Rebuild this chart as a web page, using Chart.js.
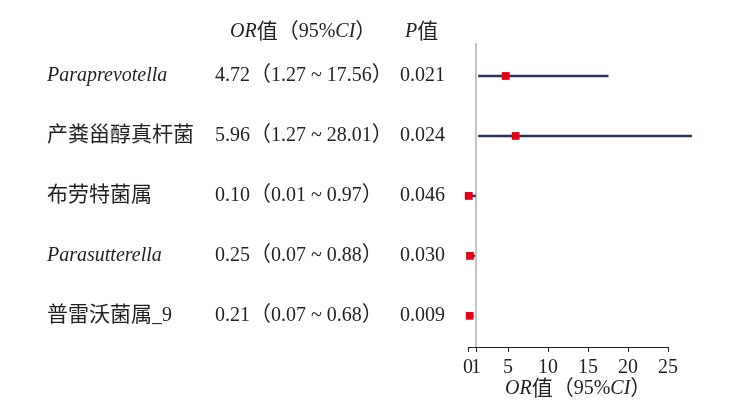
<!DOCTYPE html>
<html>
<head>
<meta charset="utf-8">
<script src="https://cdn.jsdelivr.net/npm/chart.js@4/dist/chart.umd.min.js"></script>
<style>
  html, body { margin: 0; padding: 0; background: #fff; }
  #wrap { width: 737px; height: 413px; position: relative; }
</style>
</head>
<body>
<div id="wrap"><canvas id="forest"></canvas></div>
<script>
// --- data ---
const labels = ['Paraprevotella', '产粪甾醇真杆菌', '布劳特菌属', 'Parasutterella', '普雷沃菌属_9'];
const labelItalic = [true, false, false, true, false];
const orValues = [4.72, 5.96, 0.10, 0.25, 0.21];
const ciLower = [1.27, 1.27, 0.01, 0.07, 0.07];
const ciUpper = [17.56, 28.01, 0.97, 0.88, 0.68];
const pValues = ['0.021', '0.024', '0.046', '0.030', '0.009'];
const xTicks = [0, 1, 5, 10, 15, 20, 25];

const SERIF = '"Liberation Serif", "Times New Roman", "Noto Sans CJK SC", serif';
const FS = 20;
const FS_CJK = 21;
const CJK_RE = /[\u3000-\u303f\u4e00-\u9fff\uff00-\uffef]+/g;

const fmt = v => v.toFixed(2);
const orText = labels.map((_, i) => `${fmt(orValues[i])}（${fmt(ciLower[i])} ~ ${fmt(ciUpper[i])}）`);

// split a string into latin / cjk runs so each gets its own size
function runs(t) {
  const out = [];
  let last = 0;
  t.replace(CJK_RE, (m, off) => {
    if (off > last) out.push([t.slice(last, off), false]);
    out.push([m, true]);
    last = off + m.length;
    return m;
  });
  if (last < t.length) out.push([t.slice(last), false]);
  return out;
}

// helper: draw text made of italic / normal parts
function drawRich(ctx, parts, x, y) {
  const setFont = (it, cjk) => { ctx.font = `${it ? 'italic ' : ''}${cjk ? FS_CJK : FS}px ${SERIF}`; };
  let cx = x;
  parts.forEach(([t, it]) => runs(t).forEach(([s, cjk]) => {
    setFont(it, cjk);
    ctx.fillText(s, cx, y);
    cx += ctx.measureText(s).width;
  }));
}

const orHeader = [['OR', true], ['值（95%', false], ['CI', true], ['）', false]];

const textPlugin = {
  id: 'forestText',
  afterDraw(chart) {
    const ctx = chart.ctx;
    const ys = chart.scales.y;
    ctx.save();
    ctx.fillStyle = '#231f20';
    ctx.textBaseline = 'middle';
    ctx.textAlign = 'left';
    // headers
    drawRich(ctx, orHeader, 230, 32);
    drawRich(ctx, [['P', true], ['值', false]], 405, 32);
    // rows
    labels.forEach((lab, i) => {
      const y = ys.getPixelForValue(i);
      drawRich(ctx, [[lab, labelItalic[i]]], 47, y);
      drawRich(ctx, [[orText[i], false]], 215, y);
      drawRich(ctx, [[pValues[i], false]], 400, y);
    });
    // axis title
    drawRich(ctx, orHeader, 505, 389);
    ctx.restore();
  }
};

const datasets = [];
// OR markers (first = drawn on top)
datasets.push({
  type: 'scatter',
  data: orValues.map((v, i) => ({ x: v, y: i })),
  pointStyle: 'rect',
  pointRadius: 5.5,
  backgroundColor: '#e60012',
  borderWidth: 0,
  clip: false
});
// CI lines
labels.forEach((_, i) => {
  datasets.push({
    type: 'line',
    data: [{ x: ciLower[i], y: i }, { x: ciUpper[i], y: i }],
    borderColor: '#2b3259',
    borderWidth: 2.5,
    pointRadius: 0,
    clip: false
  });
});
// reference line at OR = 1
datasets.push({
  type: 'line',
  data: [{ x: 1, y: -0.55 }, { x: 1, y: 4.52 }],
  borderColor: '#c4c4c4',
  borderWidth: 2,
  pointRadius: 0,
  clip: false
});

new Chart(document.getElementById('forest'), {
  type: 'scatter',
  data: { datasets },
  plugins: [textPlugin],
  options: {
    responsive: true,
    maintainAspectRatio: false,
    animation: false,
    devicePixelRatio: 1,
    layout: { padding: { left: 468, right: 69, top: 43, bottom: 29 } },
    plugins: { legend: { display: false }, tooltip: { enabled: false } },
    scales: {
      x: {
        type: 'linear',
        min: 0,
        max: 25,
        afterBuildTicks: axis => { axis.ticks = xTicks.map(v => ({ value: v })); },
        grid: { display: true, drawOnChartArea: false, drawTicks: true, tickLength: 5, color: '#231f20', lineWidth: 1 },
        border: { display: true, color: '#231f20', width: 1 },
        ticks: {
          autoSkip: false,
          maxRotation: 0,
          padding: 4,
          color: '#231f20',
          font: { family: SERIF, size: FS }
        }
      },
      y: {
        type: 'linear',
        display: false,
        reverse: true,
        min: -0.55,
        max: 4.52
      }
    }
  }
});
</script>
</body>
</html>
